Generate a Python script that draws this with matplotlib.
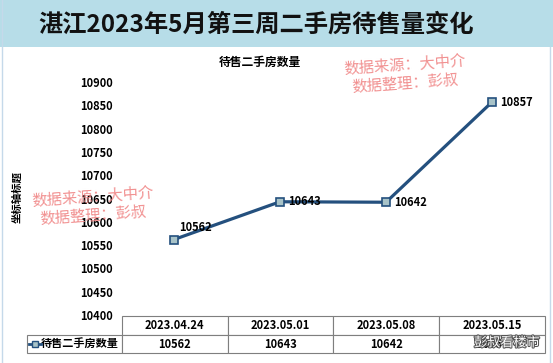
"""Zhanjiang second-hand housing listings, week 3 of May 2023."""
import matplotlib
matplotlib.use('Agg')
import matplotlib.pyplot as plt
import matplotlib.patheffects as pe
from matplotlib.table import Table
from matplotlib.patches import Rectangle
from matplotlib.lines import Line2D

plt.rcParams['font.family'] = ['Noto Sans CJK SC', 'DejaVu Sans']

# data
dates = ['2023.04.24', '2023.05.01', '2023.05.08', '2023.05.15']
listings = [10562, 10643, 10642, 10857]
series_name = '待售二手房数量'
title = '湛江2023年5月第三周二手房待售量变化'
y_ticks = list(range(10400, 10901, 50))
watermark = '数据来源：大中介\n数据整理：彭叔'

W, H = 553, 363
LINE = '#24507e'
FACE = '#a8c3c8'


def fx(px):
    return px / W


def fy(py):
    return 1 - py / H


fig = plt.figure(figsize=(W / 100, H / 100), dpi=100)

# title bar and thin frame
fig.patches.append(Rectangle((0, fy(47)), 1, 47 / H, transform=fig.transFigure,
                             facecolor='#b7dde8', edgecolor='none', zorder=0))
fig.lines.append(Line2D([fx(2), fx(2)], [0, 1], transform=fig.transFigure,
                        color='#c5d9ea', lw=1))
fig.lines.append(Line2D([fx(550), fx(550)], [0, fy(47)], transform=fig.transFigure,
                        color='#c5d9ea', lw=1))
fig.text(fx(256), fy(25), title, ha='center', va='center', fontsize=17.5,
         fontweight='bold', color='#111111')

# plot area
ax_l, ax_r, ax_b, ax_t = 121, 545, 315, 82
ax = fig.add_axes([fx(ax_l), fy(ax_b), (ax_r - ax_l) / W, (ax_b - ax_t) / H])
x = list(range(len(dates)))
ax.plot(x, listings, color=LINE, lw=2.3, marker='s', markersize=5.5,
        markerfacecolor=FACE, markeredgecolor=LINE, markeredgewidth=1.2, zorder=3)
ax.set_xlim(-0.5, len(dates) - 0.5)
ax.set_ylim(y_ticks[0], y_ticks[-1])
ax.set_yticks(y_ticks)
ax.set_yticklabels([str(t) for t in y_ticks], fontsize=8, fontweight='bold')
ax.set_xticks([])
ax.tick_params(axis='y', length=0, pad=6)
for s in ax.spines.values():
    s.set_visible(False)

# data labels
offsets = [(4, 9), (6, 0), (6, 0), (6, 0)]
for xi, v, off in zip(x, listings, offsets):
    ax.annotate(str(v), (xi, v), xytext=off, textcoords='offset points',
                ha='left', va='center', fontsize=8, fontweight='bold')

fig.text(fx(260), fy(62), series_name, ha='center', va='center', fontsize=8.5,
         fontweight='bold')
fig.text(fx(17), fy(197), '坐标轴标题', ha='center', va='center', rotation=90,
         fontsize=7.5, fontweight='bold')

# data table under the axis (column 0 holds the series name)
ax_w, ax_h = ax_r - ax_l, ax_b - ax_t
tbl = Table(ax, bbox=[(27 - ax_l) / ax_w, (ax_b - 353) / ax_h,
                      (545 - 27) / ax_w, (353 - 316) / ax_h])
cw, lw_ = 106, 95
tbl.add_cell(0, 0, width=lw_, height=19, text='', loc='center')
tbl[0, 0].visible_edges = ''
for j, d in enumerate(dates):
    tbl.add_cell(0, j + 1, width=cw, height=19, text=d, loc='center')
    tbl.add_cell(1, j + 1, width=cw, height=18, text=str(listings[j]), loc='center')
tbl.add_cell(1, 0, width=lw_, height=18, text=series_name, loc='right')
tbl.auto_set_font_size(False)
for cell in tbl.get_celld().values():
    cell.set_edgecolor('#7f7f7f')
    cell.set_linewidth(0.8)
    cell.get_text().set_fontsize(8)
    cell.get_text().set_fontweight('bold')
tbl[1, 0].PAD = 0.03
tbl.set_clip_on(False)
ax.add_table(tbl)

# legend key in the table
fig.lines.append(Line2D([fx(29), fx(35), fx(41)], [fy(344)] * 3,
                        transform=fig.transFigure, color=LINE, lw=2,
                        marker='s', markevery=[1], markersize=5,
                        markerfacecolor=FACE, markeredgecolor=LINE))

# watermarks
for cx, cy in [(405, 74), (93, 206)]:
    fig.text(fx(cx), fy(cy), watermark, ha='center', va='center',
             multialignment='center', rotation=4, fontsize=11,
             color='#f08585', alpha=0.9, linespacing=1.1)
fig.text(fx(507), fy(343), '彭叔看楼市', ha='center', va='center', fontsize=9.5,
         color='white',
         path_effects=[pe.withStroke(linewidth=1.5, foreground='#555555')])

fig.savefig('out.png', dpi=100)
